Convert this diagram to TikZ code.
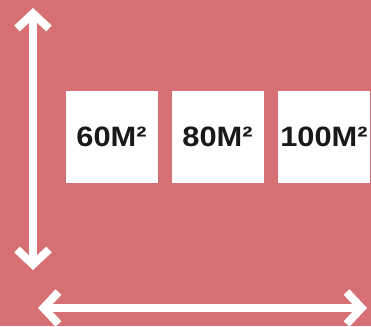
\documentclass[tikz,border=0pt]{standalone}
\usepackage{fontspec}
\setmainfont{Liberation Sans}[FakeStretch=1.1]
\usetikzlibrary{arrows.meta}
\definecolor{roseback}{HTML}{D77074}
\begin{document}
\begin{tikzpicture}[
    x=1pt, y=-1pt,
    room/.style={rectangle, fill=white, minimum width=92pt, minimum height=92pt, inner sep=0pt, font=\fontsize{28}{30}\selectfont\bfseries, text=black!90},
    dimline/.style={draw=white, line width=8pt, {Straight Barb[length=15pt,width=32pt,line join=miter]}-{Straight Barb[length=15pt,width=32pt,line join=miter]}}
]
    % Background
    \fill[roseback] (0,0) rectangle (371,326);
    \useasboundingbox (0,0) rectangle (371,326);

    % Room sizes
    \node[room] (small) at (111.5,136.5) {60M²};
    \node[room] (medium) at (217.5,136.5) {80M²};
    \node[room] (large) at (324,136.5) {100M²};

    % Dimensions
    \coordinate (heighttop) at (33,8);
    \coordinate (heightbottom) at (33,270);
    \coordinate (widthleft) at (38,308);
    \coordinate (widthright) at (367,308);
    \draw[dimline] (heighttop) -- (heightbottom);
    \draw[dimline] (widthleft) -- (widthright);

\end{tikzpicture}
\end{document}
